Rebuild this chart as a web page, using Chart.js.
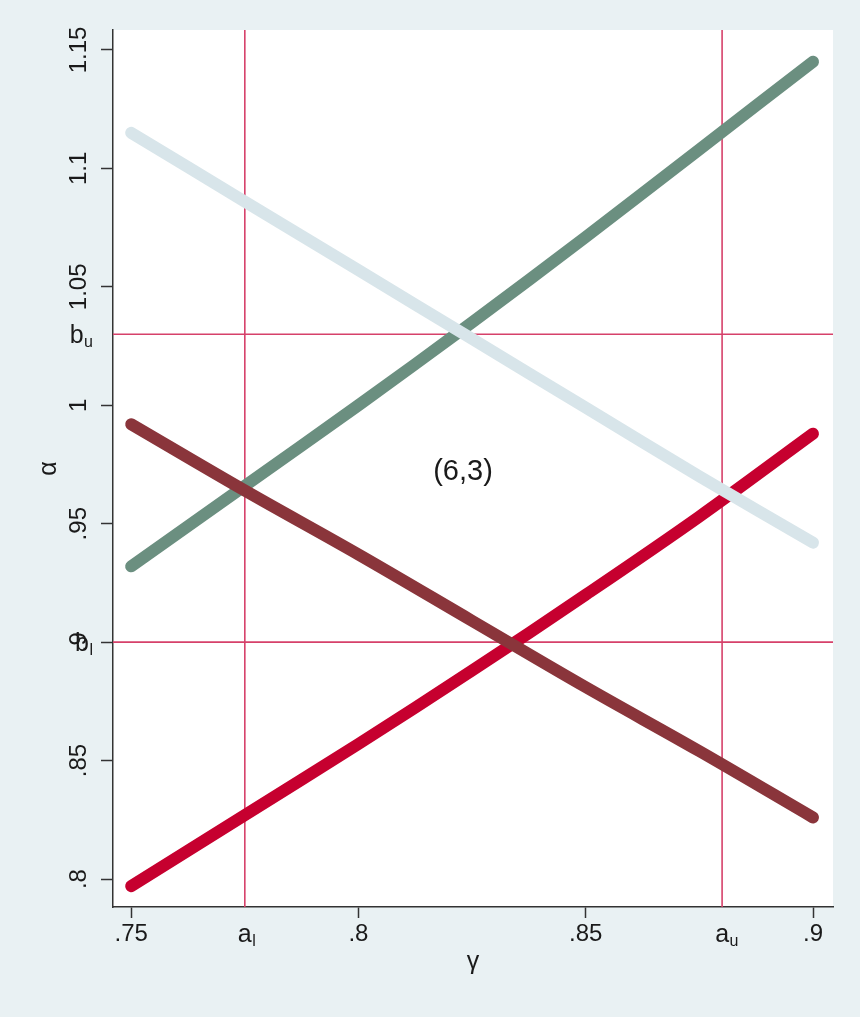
<!DOCTYPE html>
<html><head><meta charset="utf-8">
<script src="https://cdn.jsdelivr.net/npm/chart.js@4.4.1/dist/chart.umd.min.js"></script>
<style>html,body{margin:0;padding:0;background:#e9f1f3;}#wrap{width:860px;height:1017px;}</style>
</head><body><div id="wrap"><canvas id="c" width="860" height="1017"></canvas></div>
<script>
// ---- data ----
const gamma = [0.75, 0.775, 0.8, 0.825, 0.85, 0.875, 0.9];
const seriesLightBlue = [1.115, 1.086, 1.057, 1.028, 0.999, 0.970, 0.942];
const seriesDarkRed   = [0.992, 0.964, 0.937, 0.909, 0.881, 0.854, 0.826];
const seriesGreen     = [0.932, 0.966, 1.000, 1.035, 1.071, 1.108, 1.145];
const seriesRed       = [0.797, 0.827, 0.857, 0.888, 0.920, 0.953, 0.988];

const xTickValues = [0.75, 0.8, 0.85, 0.9];
const xTickLabels = ['.75', '.8', '.85', '.9'];
const yTickValues = [0.8, 0.85, 0.9, 0.95, 1, 1.05, 1.1, 1.15];
const yTickLabels = ['.8', '.85', '.9', '.95', '1', '1.05', '1.1', '1.15'];

const xRefValues = [0.775, 0.88];
const xRefMain = ['a', 'a'];
const xRefSub = ['l', 'u'];
const yRefValues = [1.03, 0.9];
const yRefMain = ['b', 'b'];
const yRefSub = ['u', 'l'];

const xRange = [0.746, 0.9044];
const yRange = [0.7882, 1.1584];

const noteText = '(6,3)';
const notePos = [0.823, 0.972];

const xTitle = 'γ';
const yTitle = 'α';

// ---- styles ----
const FONT = '"Liberation Sans", Arial, Helvetica, sans-serif';
const BG = '#e9f1f3';
const AXIS = '#333333';
const TXT = '#1a1a1a';
const REF = '#d6416a';

function pts(ys) { return gamma.map((g, i) => ({ x: g, y: ys[i] })); }
function curve(ys, color) {
  return { data: pts(ys), borderColor: color, backgroundColor: color, borderWidth: 12,
    borderCapStyle: 'round', borderJoinStyle: 'round', pointRadius: 0, tension: 0.35 };
}
const datasets = [
  curve(seriesLightBlue, '#d8e5ea'),
  curve(seriesDarkRed, '#8a353b'),
  curve(seriesGreen, '#6b8f80'),
  curve(seriesRed, '#c6002f'),
];
xRefValues.forEach(v => datasets.push({ data: [{ x: v, y: yRange[0] }, { x: v, y: yRange[1] }],
  borderColor: REF, borderWidth: 1.6, pointRadius: 0 }));
yRefValues.forEach(v => datasets.push({ data: [{ x: xRange[0], y: v }, { x: xRange[1], y: v }],
  borderColor: REF, borderWidth: 1.6, pointRadius: 0 }));

const bgPlugin = {
  id: 'bg',
  beforeDraw(chart) {
    const { ctx, chartArea: a } = chart;
    ctx.save();
    ctx.fillStyle = BG;
    ctx.fillRect(0, 0, chart.width, chart.height);
    ctx.fillStyle = '#ffffff';
    ctx.fillRect(a.left, a.top, a.right - a.left, a.bottom - a.top);
    ctx.restore();
  }
};

function drawSub(ctx, main, sub, xLeft, baseline) {
  ctx.font = '25px ' + FONT;
  ctx.textAlign = 'left';
  ctx.textBaseline = 'alphabetic';
  ctx.fillText(main, xLeft, baseline);
  const wm = ctx.measureText(main).width;
  ctx.font = '16px ' + FONT;
  ctx.fillText(sub, xLeft + wm + 0.5, baseline + 4);
}
function subWidth(ctx, main, sub) {
  ctx.font = '25px ' + FONT;
  const wm = ctx.measureText(main).width;
  ctx.font = '16px ' + FONT;
  return { wm, total: wm + 0.5 + ctx.measureText(sub).width };
}

const labelPlugin = {
  id: 'labels',
  afterDraw(chart) {
    const { ctx } = chart;
    const xs = chart.scales.x, ys = chart.scales.y;
    ctx.save();
    ctx.fillStyle = TXT;
    xRefValues.forEach((v, i) => {
      const px = xs.getPixelForValue(v);
      const w = subWidth(ctx, xRefMain[i], xRefSub[i]);
      drawSub(ctx, xRefMain[i], xRefSub[i], px - w.wm / 2, xs.top + 35);
    });
    yRefValues.forEach((v, i) => {
      const py = ys.getPixelForValue(v);
      const w = subWidth(ctx, yRefMain[i], yRefSub[i]);
      drawSub(ctx, yRefMain[i], yRefSub[i], ys.right - 20 - w.total, py + 9);
    });
    ctx.font = '29px ' + FONT;
    ctx.textAlign = 'center';
    ctx.textBaseline = 'middle';
    ctx.fillText(noteText, xs.getPixelForValue(notePos[0]), ys.getPixelForValue(notePos[1]));
    ctx.restore();
  }
};

new Chart(document.getElementById('c'), {
  type: 'line',
  data: { datasets },
  plugins: [bgPlugin, labelPlugin],
  options: {
    responsive: false,
    animation: false,
    devicePixelRatio: 1,
    layout: { padding: { left: 0, right: 27, top: 30, bottom: 0 } },
    plugins: { legend: { display: false }, tooltip: { enabled: false } },
    scales: {
      x: {
        type: 'linear', min: xRange[0], max: xRange[1],
        afterBuildTicks: s => { s.ticks = xTickValues.map(v => ({ value: v })); },
        afterFit: s => { s.height = 110; },
        ticks: { callback: (v, i) => xTickLabels[i], font: { family: FONT, size: 24 }, color: TXT,
          padding: 2, maxRotation: 0, minRotation: 0, autoSkip: false },
        grid: { display: true, drawOnChartArea: false, drawTicks: true, tickLength: 11, tickColor: AXIS, tickWidth: 1.5, color: AXIS },
        border: { display: true, color: AXIS, width: 1.5 },
        title: { display: true, text: xTitle, font: { family: FONT, size: 25 }, color: TXT, padding: { top: 0, bottom: 40 } }
      },
      y: {
        type: 'linear', min: yRange[0], max: yRange[1],
        afterBuildTicks: s => { s.ticks = yTickValues.map(v => ({ value: v })); },
        afterFit: s => { s.width = 113; },
        ticks: { callback: (v, i) => yTickLabels[i], font: { family: FONT, size: 24 }, color: TXT,
          padding: -2, minRotation: 90, maxRotation: 90, crossAlign: 'center', autoSkip: false },
        grid: { display: true, drawOnChartArea: false, drawTicks: true, tickLength: 12, tickColor: AXIS, tickWidth: 1.5, color: AXIS },
        border: { display: true, color: AXIS, width: 1.5 },
        title: { display: true, text: yTitle, font: { family: FONT, size: 25 }, color: TXT, padding: { top: 34, bottom: 0 } }
      }
    }
  }
});
</script></body></html>
